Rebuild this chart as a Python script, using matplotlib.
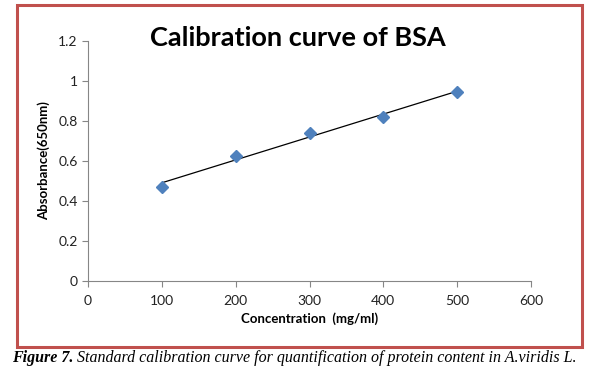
import numpy as np
import matplotlib
matplotlib.use("Agg")
import matplotlib.pyplot as plt
from matplotlib.patches import Rectangle

conc = [100, 200, 300, 400, 500]
absorb = [0.47, 0.625, 0.74, 0.82, 0.945]
xticks = [0, 100, 200, 300, 400, 500, 600]
yticks = [0, 0.2, 0.4, 0.6, 0.8, 1, 1.2]
ytick_labels = ["0", "0.2", "0.4", "0.6", "0.8", "1", "1.2"]

plt.rcParams['font.family'] = ['Lato', 'DejaVu Sans']

fig = plt.figure(figsize=(6, 3.77), dpi=100)
ax = fig.add_axes([88/600, 1-281/377, (531-88)/600, (281-41)/377])

# linear trendline
slope, intercept = np.polyfit(conc, absorb, 1)
xs = np.array([conc[0], conc[-1]])
ax.plot(xs, slope*xs + intercept, color='black', lw=0.9, zorder=2)
ax.plot(conc, absorb, 'D', color='#4F81BD', markersize=6.5, zorder=3)

ax.set_xlim(0, 600)
ax.set_ylim(0, 1.2)
ax.set_xticks(xticks)
ax.set_yticks(yticks)
ax.set_yticklabels(ytick_labels)
for s in ['top', 'right']:
    ax.spines[s].set_visible(False)
for s in ['left', 'bottom']:
    ax.spines[s].set_color('#868686')
    ax.spines[s].set_linewidth(0.8)
ax.tick_params(colors='#868686', labelcolor='#222222', labelsize=10, length=4, width=0.8)
ax.tick_params(axis='x', pad=6)

ax.set_xlabel('Concentration  (mg/ml)', fontsize=9.5, fontweight='bold', labelpad=4)
ax.set_ylabel('Absorbance(650nm)', fontsize=9.5, fontweight='bold', labelpad=6)

fig.text(298/600, 1-38/377, 'Calibration curve of BSA', fontsize=19.5, fontweight='bold',
         ha='center', va='center')

fig.patches.append(Rectangle((17/600, 1-347/377), 565/600, 342/377, transform=fig.transFigure,
                             fill=False, edgecolor='#C0504D', lw=2.2))

t1 = fig.text(12/600, 1-358/377, 'Figure 7.', family='Liberation Serif', style='italic',
              fontweight='bold', fontsize=11.5, va='center')
r = fig.canvas.get_renderer()
bb = t1.get_window_extent(r)
fig.text((bb.x1 + 4)/600, 1-358/377,
         'Standard calibration curve for quantification of protein content in A.viridis L.',
         family='Liberation Serif', style='italic', fontsize=11.5, va='center')

fig.savefig('out.png', dpi=100)
